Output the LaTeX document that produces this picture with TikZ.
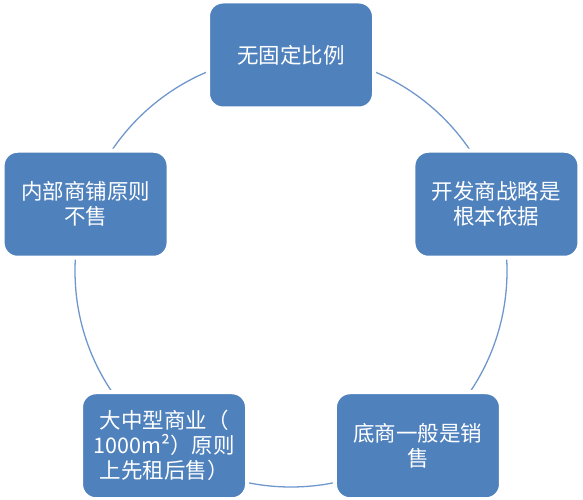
\documentclass[tikz,border=0pt]{standalone}
\usepackage{fontspec}
\newfontfamily\cjk{Noto Sans CJK SC}
\usetikzlibrary{shapes,positioning}
\definecolor{boxblue}{HTML}{4F81BD}
\definecolor{ringblue}{HTML}{6F97CC}
\tikzstyle{box} = [rectangle, rounded corners=15pt, fill=boxblue, draw=white, line width=4pt, minimum width=166pt, minimum height=107pt, text width=150pt, align=center, text=white, font=\cjk\fontsize{21.5}{25}\selectfont, inner sep=0pt]
\tikzstyle{ring} = [circle, draw=ringblue, line width=1.3pt, minimum size=432pt, inner sep=0pt]

\begin{document}
\begin{tikzpicture}[x=1pt, y=1pt]
    \useasboundingbox (0,0) rectangle (583,500);
    % Ring behind the boxes
    \coordinate (c) at (291,229);
    \node [ring] (ring) at (c) {};
    % Boxes
    \node [box] (fixed) at ([shift={(90:216)}]c) {无固定比例};
    \node [box] (strategy) at ([shift={(18:216)}]c) {开发商战略是\\根本依据};
    \node [box] (ground) at ([shift={(-54:216)}]c) {底商一般是销\\售};
    \node [box] (large) at ([shift={(-126:216)}]c) {大中型商业（\\1000m²）原则\\上先租后售）};
    \node [box] (inner) at ([shift={(162:216)}]c) {内部商铺原则\\不售};
\end{tikzpicture}
\end{document}
